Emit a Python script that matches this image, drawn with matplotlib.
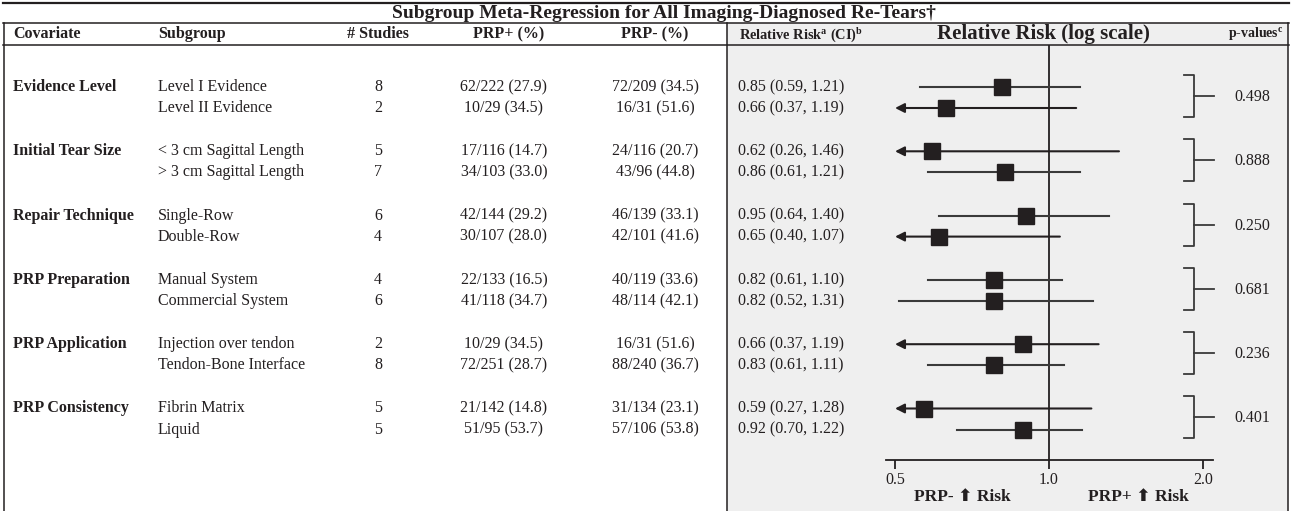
import matplotlib
matplotlib.use("Agg")
import matplotlib.pyplot as plt
from matplotlib.ticker import FixedLocator, FixedFormatter, NullLocator
from matplotlib.patches import Rectangle

# ---------------- data ----------------
covariates = ["Evidence Level", "Initial Tear Size", "Repair Technique",
              "PRP Preparation", "PRP Application", "PRP Consistency"]
subgroups = ["Level I Evidence", "Level II Evidence",
             "< 3 cm Sagittal Length", "> 3 cm Sagittal Length",
             "Single-Row", "Double-Row",
             "Manual System", "Commercial System",
             "Injection over tendon", "Tendon-Bone Interface",
             "Fibrin Matrix", "Liquid"]
n_studies = [8, 2, 5, 7, 6, 4, 4, 6, 2, 8, 5, 5]
plus_events = [62, 10, 17, 34, 42, 30, 22, 41, 10, 72, 21, 51]
plus_totals = [222, 29, 116, 103, 144, 107, 133, 118, 29, 251, 142, 95]
plus_pct = [27.9, 34.5, 14.7, 33.0, 29.2, 28.0, 16.5, 34.7, 34.5, 28.7, 14.8, 53.7]
minus_events = [72, 16, 24, 43, 46, 42, 40, 48, 16, 88, 31, 57]
minus_totals = [209, 31, 116, 96, 139, 101, 119, 114, 31, 240, 134, 106]
minus_pct = [34.5, 51.6, 20.7, 44.8, 33.1, 41.6, 33.6, 42.1, 51.6, 36.7, 23.1, 53.8]
rr = [0.85, 0.66, 0.62, 0.86, 0.95, 0.65, 0.82, 0.82, 0.66, 0.83, 0.59, 0.92]
rr_lo = [0.59, 0.37, 0.26, 0.61, 0.64, 0.40, 0.61, 0.52, 0.37, 0.61, 0.27, 0.70]
rr_hi = [1.21, 1.19, 1.46, 1.21, 1.40, 1.07, 1.10, 1.31, 1.19, 1.11, 1.28, 1.22]
p_values = ["0.498", "0.888", "0.250", "0.681", "0.236", "0.401"]

# positions of the marks as drawn in the graphic (read against its log axis)
plot_est = [0.81, 0.63, 0.59, 0.82, 0.90, 0.61, 0.78, 0.78, 0.89, 0.78, 0.57, 0.89]
plot_lo = [0.56, 0.37, 0.26, 0.58, 0.61, 0.40, 0.58, 0.51, 0.37, 0.58, 0.27, 0.66]
plot_hi = [1.15, 1.13, 1.37, 1.15, 1.31, 1.05, 1.06, 1.22, 1.25, 1.07, 1.21, 1.16]

axis_ticks = [0.5, 1.0, 2.0]
axis_labels = ["0.5", "1.0", "2.0"]

title = "Subgroup Meta-Regression for All Imaging-Diagnosed Re-Tears\u2020"

# ---------------- style ----------------
plt.rcParams["font.family"] = ["Liberation Serif", "DejaVu Serif"]
plt.rcParams["mathtext.fontset"] = "custom"
plt.rcParams["mathtext.rm"] = "Liberation Serif"
plt.rcParams["mathtext.bf"] = "Liberation Serif:bold"
TXT = "#231f20"
LINE = "#3a3a3a"
GREY = "#efefef"
FS = 11.5

W, H = 1292, 511
fig = plt.figure(figsize=(W / 100, H / 100), dpi=100)
bg = fig.add_axes([0, 0, 1, 1])
bg.set_xlim(0, W)
bg.set_ylim(H, 0)
bg.axis("off")

# layout (pixels)
y_top, y_title, y_head = 3, 23, 45
x_left, x_sep, x_right = 4, 727, 1288
x_cov, x_sub, x_std, x_plus, x_minus, x_rr = 13, 158, 378, 504, 655, 738
ax_l, ax_r, ax_b = 886, 1213, 460
row_y = []
for g in range(len(covariates)):
    base = 87 + 64.3 * g
    row_y += [base, base + 21]

# grey panel and rules
bg.add_patch(Rectangle((x_sep, y_title), x_right - x_sep, H - y_title,
                       facecolor=GREY, edgecolor="none", zorder=0))
bg.plot([x_left - 1, x_right + 1], [y_top, y_top], color=TXT, lw=1.6)
bg.plot([x_left - 1, x_right + 1], [y_title, y_title], color=TXT, lw=1.1)
bg.plot([x_left - 1, x_right + 1], [y_head, y_head], color=TXT, lw=1.1)
for xv in (x_left, x_sep, x_right):
    bg.plot([xv, xv], [y_title, H], color=TXT, lw=1.1)

# title and headers
bg.text(664, (y_top + y_title) / 2 + 0.5, title, ha="center", va="center",
        fontsize=14, fontweight="bold", color=TXT)
yh = (y_title + y_head) / 2 + 0.5
hk = dict(va="center", fontsize=FS, fontweight="bold", color=TXT)
bg.text(x_cov, yh, "Covariate", ha="left", **hk)
bg.text(x_sub, yh, "Subgroup", ha="left", **hk)
bg.text(x_std, yh, "# Studies", ha="center", **hk)
bg.text(509, yh, "PRP+ (%)", ha="center", **hk)
bg.text(x_minus, yh, "PRP- (%)", ha="center", **hk)
bg.text(x_rr + 1, yh, r"Relative Risk$^{\mathbf{a}}$ (CI)$^{\mathbf{b}}$", ha="left",
        va="center", fontsize=10.4, fontweight="bold", color=TXT)
bg.text(1043, yh, "Relative Risk (log scale)", ha="center", va="center",
        fontsize=15, fontweight="bold", color=TXT)
bg.text(1284, yh, r"p-values$^{\mathbf{c}}$", ha="right", va="center",
        fontsize=10, fontweight="bold", color=TXT)

# table body
bk = dict(va="center", fontsize=FS, color=TXT)
for g, cov in enumerate(covariates):
    bg.text(x_cov, row_y[2 * g], cov, ha="left", fontweight="bold", **bk)
for i, y in enumerate(row_y):
    bg.text(x_sub, y, subgroups[i], ha="left", **bk)
    bg.text(x_std, y, str(n_studies[i]), ha="center", **bk)
    bg.text(x_plus, y, f"{plus_events[i]}/{plus_totals[i]} ({plus_pct[i]:.1f})", ha="center", **bk)
    bg.text(x_minus, y, f"{minus_events[i]}/{minus_totals[i]} ({minus_pct[i]:.1f})", ha="center", **bk)
    bg.text(x_rr, y, f"{rr[i]:.2f} ({rr_lo[i]:.2f}, {rr_hi[i]:.2f})", ha="left", **bk)

# brackets + p-values
x_br = 1194
for g, p in enumerate(p_values):
    y1, y2 = row_y[2 * g] - 12, row_y[2 * g + 1] + 9
    ym = (y1 + y2) / 2
    bg.plot([x_br - 10, x_br, x_br, x_br - 10], [y1, y1, y2, y2], color=LINE, lw=1.3)
    bg.plot([x_br, x_br + 20], [ym, ym], color=LINE, lw=1.3)
    bg.text(1252, ym + 1, p, ha="center", va="center", fontsize=FS, color=TXT)

# forest axes
fx = fig.add_axes([ax_l / W, (H - ax_b) / H, (ax_r - ax_l) / W, (ax_b - y_head) / H])
fx.set_xscale("log")
lo_lim, hi_lim = 0.480, 2.092
fx.set_xlim(lo_lim, hi_lim)
fx.set_ylim(ax_b, y_head)
fx.patch.set_alpha(0)
for s in ("top", "left", "right"):
    fx.spines[s].set_visible(False)
fx.spines["bottom"].set_linewidth(1.3)
fx.spines["bottom"].set_color(TXT)
fx.xaxis.set_major_locator(FixedLocator(axis_ticks))
fx.xaxis.set_major_formatter(FixedFormatter(axis_labels))
fx.xaxis.set_minor_locator(NullLocator())
fx.tick_params(axis="x", direction="out", length=6.5, width=1.3, color=TXT,
               labelsize=FS, pad=2, labelcolor=TXT)
fx.set_yticks([])
fx.axvline(1.0, color=TXT, lw=1.3, zorder=1)

for i, y in enumerate(row_y):
    if plot_lo[i] < 0.5:
        fx.annotate("", xy=(0.5, y), xytext=(plot_hi[i], y),
                    arrowprops=dict(arrowstyle="-|>,head_length=0.55,head_width=0.28",
                                    color=TXT, lw=1.5, shrinkA=0, shrinkB=0), zorder=2)
    else:
        fx.plot([plot_lo[i], plot_hi[i]], [y, y], color=LINE, lw=1.5, zorder=2)
    fx.plot(plot_est[i], y, marker="s", ms=12, color=TXT, zorder=3, linestyle="none")

# bottom captions
ck = dict(ha="center", va="center", fontsize=12.5, fontweight="bold", color=TXT,
          family=["Liberation Serif", "DejaVu Sans"])
bg.text(962, 497, "PRP- \u2B06 Risk", **ck)
bg.text(1138, 497, "PRP+ \u2B06 Risk", **ck)

fig.savefig("out.png", dpi=100)
